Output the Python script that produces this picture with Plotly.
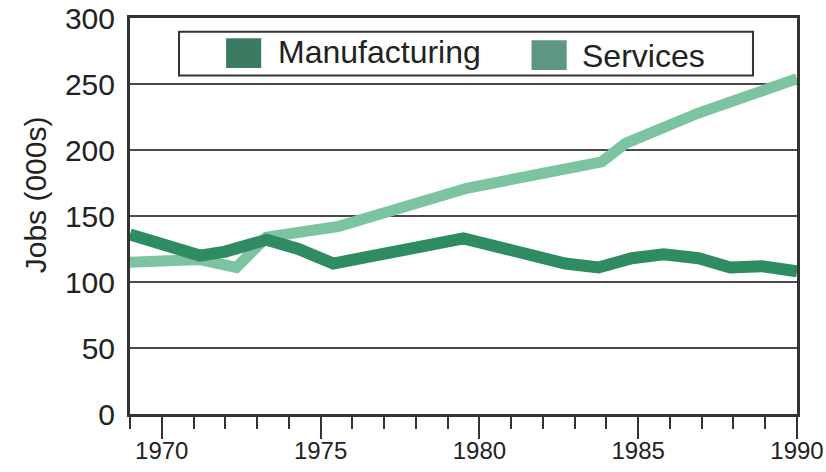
import plotly.graph_objects as go

# ---- data ----
series_names = ["Manufacturing", "Services"]

manuf_years = [1969.0, 1971.2, 1972.0, 1973.3, 1974.3, 1975.4, 1979.5, 1980.8, 1981.6,
               1982.7, 1983.75, 1984.8, 1985.8, 1986.9, 1987.9, 1988.9, 1990.0]
manuf_jobs = [136, 120, 123, 132, 125, 114, 133, 125, 121,
              114, 111, 118, 121, 118, 111, 112, 108]

serv_years = [1969.0, 1971.2, 1972.35, 1973.3, 1975.55, 1978.4, 1979.6, 1983.85,
              1984.6, 1986.9, 1988.85, 1990.0]
serv_jobs = [115, 117, 111, 134, 142, 162, 171, 191,
             205, 228, 245, 254]

y_ticks = [0, 50, 100, 150, 200, 250, 300]
x_ticks = [1970, 1975, 1980, 1985, 1990]

# ---- styles ----
FONT = "Liberation Sans, Arial, sans-serif"
TXT = "#222222"
AX = "#333333"
C_MANUF = "#2e8b62"
C_SERV = "#7cc4a1"
C_MANUF_KEY = "#3b7b62"
C_SERV_KEY = "#5f9684"

fig = go.Figure()
fig.add_trace(go.Scatter(x=serv_years, y=serv_jobs, mode="lines", name=series_names[1],
                         line=dict(color=C_SERV, width=11), showlegend=False))
fig.add_trace(go.Scatter(x=manuf_years, y=manuf_jobs, mode="lines", name=series_names[0],
                         line=dict(color=C_MANUF, width=12), showlegend=False))

fig.update_layout(
    width=826, height=472,
    margin=dict(l=130, r=29, t=18, b=58, autoexpand=False),
    paper_bgcolor="white", plot_bgcolor="white",
    font=dict(family=FONT, color=TXT),
    showlegend=False,
)

fig.update_xaxes(
    range=[1969, 1990], tickvals=x_ticks, ticktext=[str(v) for v in x_ticks],
    ticks="outside", ticklen=22, tickwidth=2, tickcolor=AX,
    minor=dict(dtick=1, tick0=1969, ticks="outside", ticklen=12, tickwidth=2, tickcolor=AX, showgrid=False),
    showgrid=False, zeroline=False, automargin=False,
    showline=True, linewidth=3, linecolor=AX, mirror=True,
    tickfont=dict(size=24, color=TXT, family=FONT), ticklabelstandoff=-9,
)
fig.update_yaxes(
    range=[0, 300], tickvals=y_ticks, ticks="",
    showgrid=True, gridcolor="#4a4a4a", gridwidth=2, zeroline=False, automargin=False,
    showline=True, linewidth=3, linecolor=AX, mirror=True,
    tickfont=dict(size=30, color=TXT, family=FONT), ticklabelstandoff=6,
)

# y-axis title
fig.add_annotation(text="Jobs (000s)", xref="paper", yref="paper", x=-0.142, y=0.553,
                   textangle=-90, showarrow=False, xanchor="center", yanchor="middle",
                   font=dict(size=30, color=TXT, family=FONT))

# legend box (manual, to get large square keys)
fig.add_shape(type="rect", xref="paper", yref="paper", x0=0.0735, x1=0.934, y0=0.855, y1=0.965,
              line=dict(color=AX, width=2), fillcolor="white", layer="above")
keys = [(0.1441, 0.1967, 0.874, 0.949, C_MANUF_KEY, 0.219, 0.913),
        (0.602, 0.6547, 0.869, 0.944, C_SERV_KEY, 0.674, 0.903)]
for name, (x0, x1, y0, y1, col, tx, ty) in zip(series_names, keys):
    fig.add_shape(type="rect", xref="paper", yref="paper", x0=x0, x1=x1, y0=y0, y1=y1,
                  line=dict(width=0), fillcolor=col, layer="above")
    fig.add_annotation(text=name, xref="paper", yref="paper", x=tx, y=ty, showarrow=False,
                       xanchor="left", yanchor="middle", font=dict(size=32, color=TXT, family=FONT))

fig.write_html("out.html")
